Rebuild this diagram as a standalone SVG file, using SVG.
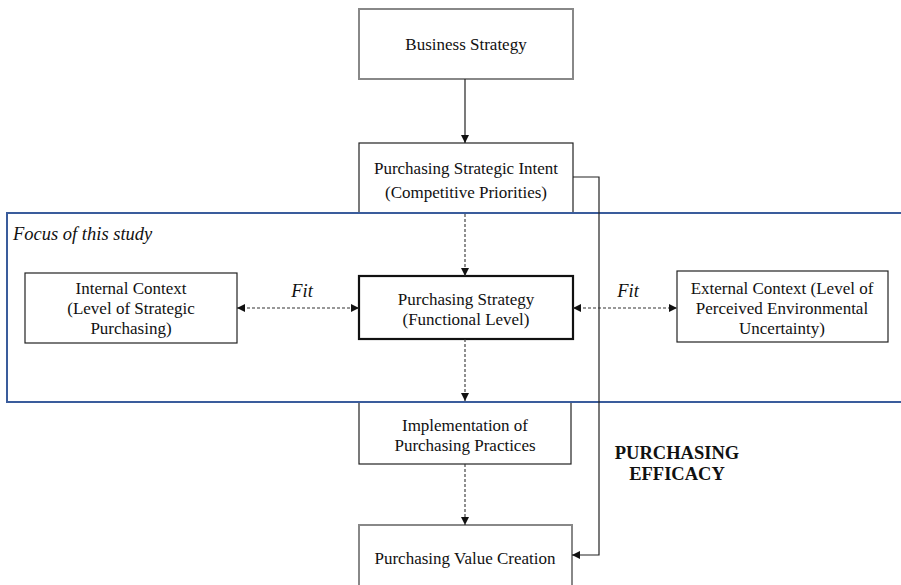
<svg xmlns="http://www.w3.org/2000/svg" width="901" height="585" viewBox="0 0 901 585">
<style>
text{font-family:"Liberation Serif","Times New Roman",serif;font-size:17px;fill:#111;text-anchor:middle}
.it{font-style:italic}
.fit{font-size:18.5px}
.focus{font-size:18.5px;text-anchor:start}
.b{font-weight:bold;font-size:18.5px}
.box{fill:#fff;stroke:#222;stroke-width:1.2}
.gbox{fill:#fff;stroke:#888;stroke-width:2}
.thick{fill:#fff;stroke:#111;stroke-width:2.2}
.sol{fill:none;stroke:#222;stroke-width:1.2}
.dash{fill:none;stroke:#333;stroke-width:1.1;stroke-dasharray:3,2}
</style>
<defs>
<marker id="ah" viewBox="0 0 10 10" refX="10" refY="5" markerWidth="8" markerHeight="8" markerUnits="userSpaceOnUse" orient="auto-start-reverse">
<path d="M0,0 L10,5 L0,10 z" fill="#111"/>
</marker>
</defs>
<rect width="901" height="585" fill="#fff"/>
<g id="n-business">
<rect class="gbox" x="359" y="9" width="214" height="70"/>
<text x="466" y="50">Business Strategy</text>
</g>
<g id="n-intent">
<rect class="box" x="359" y="143" width="214" height="80"/>
<text x="466" y="174">Purchasing Strategic Intent</text>
<text x="466" y="198">(Competitive Priorities)</text>
</g>
<g id="n-implementation">
<rect class="box" x="359" y="392" width="212" height="72"/>
<text x="465" y="431">Implementation of</text>
<text x="465" y="451">Purchasing Practices</text>
</g>
<g id="n-focus">
<rect x="7" y="213" width="910" height="189" fill="#fff" stroke="#3A5C9C" stroke-width="2"/>
<text class="it focus" x="13" y="240">Focus of this study</text>
</g>
<g id="n-internal">
<rect class="box" x="25" y="273" width="212" height="70"/>
<text x="131" y="294">Internal Context</text>
<text x="131" y="314">(Level of Strategic</text>
<text x="131" y="334">Purchasing)</text>
</g>
<g id="n-strategy">
<rect class="thick" x="359" y="276" width="214" height="63"/>
<text x="466" y="305">Purchasing Strategy</text>
<text x="466" y="325">(Functional Level)</text>
</g>
<g id="n-external">
<rect class="box" x="677" y="271" width="211" height="71"/>
<text x="782" y="294">External Context (Level of</text>
<text x="782" y="314">Perceived Environmental</text>
<text x="782" y="334">Uncertainty)</text>
</g>
<g id="n-value">
<rect class="gbox" x="359" y="525" width="213" height="70"/>
<text x="465" y="564">Purchasing Value Creation</text>
</g>
<g id="n-efficacy">
<text class="b" x="677" y="459">PURCHASING</text>
<text class="b" x="677" y="480">EFFICACY</text>
</g>
<g id="connectors">
<line class="sol" x1="465" y1="79" x2="465" y2="143" marker-end="url(#ah)"/>
<polyline class="sol" points="573,177 599,177 599,555 572,555" marker-end="url(#ah)"/>
<line class="dash" x1="465" y1="214" x2="465" y2="276" marker-end="url(#ah)"/>
<line class="dash" x1="465" y1="339" x2="465" y2="401" marker-end="url(#ah)"/>
<line class="dash" x1="465" y1="464" x2="465" y2="525" marker-end="url(#ah)"/>
<line class="dash" x1="237" y1="308" x2="359" y2="308" marker-start="url(#ah)" marker-end="url(#ah)"/>
<line class="dash" x1="573" y1="308" x2="677" y2="308" marker-start="url(#ah)" marker-end="url(#ah)"/>
<text class="it fit" x="302" y="297">Fit</text>
<text class="it fit" x="628" y="297">Fit</text>
</g>
</svg>
